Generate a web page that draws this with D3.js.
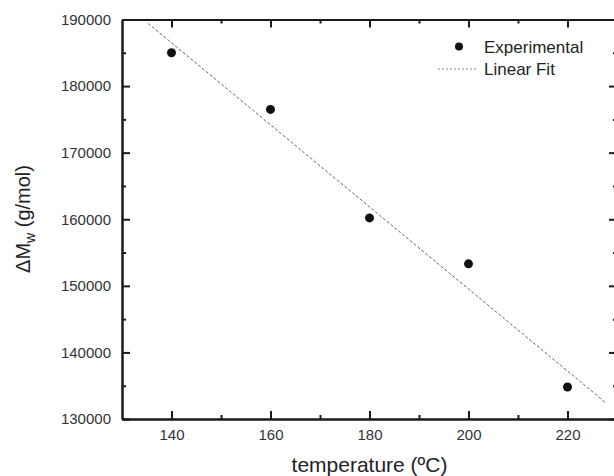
<!DOCTYPE html>
<html>
<head>
<meta charset="utf-8">
<script src="https://cdn.jsdelivr.net/npm/d3@7"></script>
<style>
  body { margin: 0; background: #fff; }
  svg { font-family: "Liberation Sans", Arial, sans-serif; }
  .axis path, .axis line { stroke: #1a1a1a; stroke-width: 2; }
  .axis text { fill: #333; font-size: 15px; }
</style>
</head>
<body>
<svg id="chart" width="614" height="476"></svg>
<script>
// data
var temps = [140, 160, 180, 200, 220];
var deltaMw = [185000, 176500, 160200, 153300, 134800];
// linear fit, two end points (x in ºC, y in g/mol)
var fitX = [135.3, 227.8];
var fitY = [189400, 132400];
var xMajor = [140, 160, 180, 200, 220];
var xMinor = [150, 170, 190, 210];
var yMajor = [130000, 140000, 150000, 160000, 170000, 180000, 190000];
var yMinor = [135000, 145000, 155000, 165000, 175000, 185000];

var pLeft = 122, pRight = 617, pTop = 19.5, pBottom = 419;

var svg = d3.select('#chart');

var x = d3.scaleLinear().domain([130, 230]).range([pLeft, pRight]);
var y = d3.scaleLinear().domain([130000, 190000]).range([pBottom, pTop]);

// linear fit
var fit = d3.zip(fitX, fitY);
svg.append('path')
  .datum(fit)
  .attr('fill', 'none')
  .attr('stroke', '#666')
  .attr('stroke-width', 1)
  .attr('stroke-dasharray', '3,2')
  .attr('d', d3.line().x(d => x(d[0])).y(d => y(d[1])));

// points
svg.selectAll('circle.pt')
  .data(d3.zip(temps, deltaMw))
  .join('circle')
    .attr('class', 'pt')
    .attr('cx', d => x(d[0]))
    .attr('cy', d => y(d[1]))
    .attr('r', 4.5)
    .attr('fill', '#111');

// axes, ticks point inward
svg.append('g').attr('class', 'axis')
    .attr('transform', `translate(0,${pBottom})`)
    .call(d3.axisBottom(x).tickValues(xMajor).tickSizeInner(-8).tickSizeOuter(0).tickPadding(10));
svg.append('g').attr('class', 'axis')
    .attr('transform', `translate(0,${pBottom})`)
    .call(d3.axisBottom(x).tickValues(xMinor).tickSizeInner(-4).tickSizeOuter(0).tickFormat(''));
svg.append('g').attr('class', 'axis')
    .attr('transform', `translate(0,${pTop})`)
    .call(d3.axisTop(x).tickValues(xMajor).tickSizeInner(-8).tickSizeOuter(0).tickFormat(''));
svg.append('g').attr('class', 'axis')
    .attr('transform', `translate(0,${pTop})`)
    .call(d3.axisTop(x).tickValues(xMinor).tickSizeInner(-4).tickSizeOuter(0).tickFormat(''));

svg.append('g').attr('class', 'axis')
    .attr('transform', `translate(${pLeft},0)`)
    .call(d3.axisLeft(y).tickValues(yMajor).tickSizeInner(-8).tickSizeOuter(0).tickPadding(11).tickFormat(d3.format('d')));
svg.append('g').attr('class', 'axis')
    .attr('transform', `translate(${pLeft},0)`)
    .call(d3.axisLeft(y).tickValues(yMinor).tickSizeInner(-4).tickSizeOuter(0).tickFormat(''));
svg.append('g').attr('class', 'axis')
    .attr('transform', `translate(${pRight},0)`)
    .call(d3.axisRight(y).tickValues(yMajor).tickSizeInner(-8).tickSizeOuter(0).tickFormat(''));
svg.append('g').attr('class', 'axis')
    .attr('transform', `translate(${pRight},0)`)
    .call(d3.axisRight(y).tickValues(yMinor).tickSizeInner(-4).tickSizeOuter(0).tickFormat(''));

// axis titles
svg.append('text')
  .attr('x', (pLeft + pRight) / 2)
  .attr('y', 472)
  .attr('text-anchor', 'middle')
  .attr('fill', '#222')
  .style('font-size', '21px')
  .text('temperature (ºC)');

var yl = svg.append('text')
  .attr('transform', 'translate(30,219) rotate(-90)')
  .attr('text-anchor', 'middle')
  .attr('fill', '#222')
  .style('font-size', '20px');
yl.append('tspan').text('ΔM');
yl.append('tspan').attr('dy', 5).style('font-size', '14px').text('w');
yl.append('tspan').attr('dy', -5).text('  (g/mol)');

// legend
var lg = svg.append('g').attr('fill', '#222').style('font-size', '17px');
lg.append('circle').attr('cx', 459).attr('cy', 46.5).attr('r', 4).attr('fill', '#111');
lg.append('text').attr('x', 484).attr('y', 53).text('Experimental');
lg.append('line')
  .attr('x1', 438).attr('x2', 477).attr('y1', 69).attr('y2', 69)
  .attr('stroke', '#888').attr('stroke-width', 1).attr('stroke-dasharray', '2,2');
lg.append('text').attr('x', 484).attr('y', 75).text('Linear Fit');
</script>
</body>
</html>
